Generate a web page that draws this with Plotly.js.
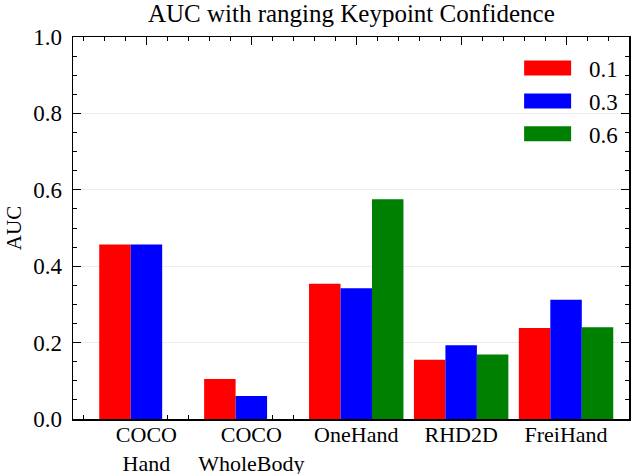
<!DOCTYPE html>
<html>
<head>
<meta charset="utf-8">
<script src="https://cdn.plot.ly/plotly-3.0.1.min.js"></script>
<style>html,body{margin:0;padding:0;background:#fff;}</style>
</head>
<body>
<div id="chart" style="width:640px;height:474px;"></div>
<script>
var categories = ["COCO<br>Hand", "COCO<br>WholeBody", "OneHand", "RHD2D", "FreiHand"];
var categoryPositions = [0, 1, 2, 3, 4];
var seriesNames = ["0.1", "0.3", "0.6"];
var conf01 = [0.457, 0.105, 0.354, 0.155, 0.238];
var conf03 = [0.457, 0.060, 0.342, 0.193, 0.312];
var conf06 = [null, null, 0.575, 0.169, 0.240];
var seriesColors = ["#ff0000", "#0000ff", "#008000"];
var yTickVals = [0, 0.2, 0.4, 0.6, 0.8, 1.0];
var yTickText = ["0.0", "0.2", "0.4", "0.6", "0.8", "1.0"];

var FONT = "Liberation Serif";
var seriesValues = [conf01, conf03, conf06];
var traces = seriesValues.map(function (vals, i) {
  return {
    type: "bar",
    x: categoryPositions,
    y: vals,
    name: seriesNames[i],
    legendgroup: "g" + i,
    marker: { color: seriesColors[i], line: { width: 0 } },
    hoverinfo: "skip"
  };
});

var layout = {
  width: 640,
  height: 474,
  margin: { l: 73, r: 11, t: 37, b: 55 },
  paper_bgcolor: "#ffffff",
  plot_bgcolor: "#ffffff",
  barmode: "group",
  bargap: 0.1,
  bargroupgap: 0,
  font: { family: FONT, color: "#000000", size: 22 },
  title: {
    text: "AUC with ranging Keypoint Confidence",
    font: { family: FONT, size: 25, color: "#000" },
    x: 0.549, xanchor: "center",
    y: 0.971, yanchor: "middle"
  },
  xaxis: {
    range: [-0.7, 4.6],
    tickvals: categoryPositions,
    ticktext: categories,
    ticks: "inside",
    ticklen: 8,
    tickwidth: 1,
    tickcolor: "#000",
    showline: true,
    linecolor: "#000",
    linewidth: 1.5,
    mirror: "ticks",
    showgrid: false,
    zeroline: false,
    layer: "below traces",
    ticklabelstandoff: -5,
    tickfont: { family: FONT, size: 22 },
    minor: { dtick: 0.2, tick0: 0, ticks: "inside", ticklen: 4, tickwidth: 1, tickcolor: "#000", showgrid: false }
  },
  yaxis: {
    range: [0, 1],
    tickvals: yTickVals,
    ticktext: yTickText,
    ticks: "inside",
    ticklen: 8,
    tickwidth: 1,
    tickcolor: "#000",
    showline: true,
    linecolor: "#000",
    linewidth: 1.5,
    mirror: "ticks",
    showgrid: true,
    gridcolor: "#ececec",
    gridwidth: 1,
    zeroline: false,
    tickfont: { family: FONT, size: 23 },
    ticklabelstandoff: 5,
    title: { text: "AUC", font: { family: FONT, size: 21 }, standoff: 6 },
    minor: { dtick: 0.05, tick0: 0, ticks: "inside", ticklen: 4, tickwidth: 1, tickcolor: "#000", showgrid: false }
  },
  showlegend: true,
  legend: {
    x: 0.779, xanchor: "left",
    y: 0.975, yanchor: "top",
    bgcolor: "rgba(0,0,0,0)",
    borderwidth: 0,
    traceorder: "grouped",
    tracegroupgap: 0,
    itemwidth: 73,
    font: { family: FONT, size: 23 }
  }
};

Plotly.newPlot("chart", traces, layout, { staticPlot: true, displayModeBar: false }).then(function (gd) {
  gd.querySelectorAll(".legendpoints path").forEach(function (p) {
    p.setAttribute("d", "M23.5,7.5H-23.5V-7.5H23.5Z");
  });
});
</script>
</body>
</html>
